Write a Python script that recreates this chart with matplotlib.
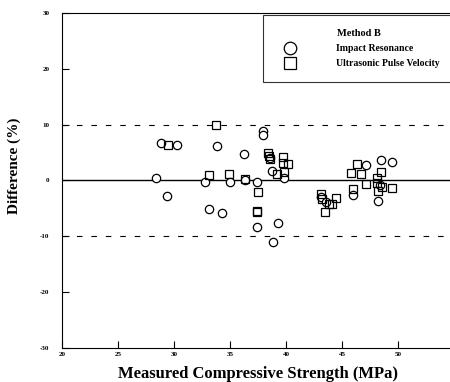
import matplotlib.pyplot as plt

# Impact Resonance (circles)
ir_strength = [28.4, 28.8, 30.3, 29.4, 33.8, 36.2, 32.8, 35.0, 36.3, 33.1, 34.3,
               37.9, 37.9, 38.6, 38.7, 39.8, 37.4, 37.4, 39.3, 38.8,
               43.1, 43.6, 46.0, 47.1, 48.5, 49.5, 48.2, 48.4]
ir_diff = [0.5, 6.7, 6.4, -2.8, 6.1, 4.7, -0.2, -0.3, 0.0, -5.1, -5.8,
           8.8, 8.2, 4.0, 1.7, 0.5, -0.2, -8.3, -7.6, -11.0,
           -3.0, -3.9, -2.6, 2.7, 3.6, 3.4, -3.7, -0.8]

# Ultrasonic Pulse Velocity (squares)
upv_strength = [29.5, 33.75, 33.1, 34.9, 36.3, 38.4, 38.5, 38.6, 39.7, 39.7, 40.2,
                39.2, 39.8, 37.5, 37.4, 37.4, 43.1, 43.2, 43.8, 43.5, 44.5, 44.1,
                46.3, 45.8, 46.7, 47.1, 46.0, 48.5, 48.15, 48.15, 48.6, 48.2, 49.5]
upv_diff = [6.4, 9.95, 0.9, 1.2, 0.2, 4.9, 4.3, 3.9, 4.2, 3.2, 2.9,
            1.1, 1.5, -2.1, -5.4, -5.7, -2.4, -3.4, -4.2, -5.7, -3.1, -4.2,
            2.9, 1.4, 1.1, -0.7, -1.5, 1.6, 0.5, -0.4, -1.2, -1.9, -1.4]

x_ticks = [20, 25, 30, 35, 40, 45, 50, 55]
y_ticks = [-30, -20, -10, 0, 10, 20, 30]

plt.rcParams['font.family'] = ['Liberation Serif', 'DejaVu Serif']

fig = plt.figure(figsize=(4.5, 3.82), dpi=100)
ax = fig.add_axes([0.138, 0.089, 0.871, 0.877])

ax.axhline(0, color='black', linewidth=1.0, zorder=1)
ax.axhline(10, color='black', linewidth=0.8, linestyle=(0, (5, 8)), zorder=1)
ax.axhline(-10, color='black', linewidth=0.8, linestyle=(0, (5, 8)), zorder=1)

ax.plot(ir_strength, ir_diff, linestyle='none', marker='o', markersize=6,
        markerfacecolor='white', markeredgecolor='black', markeredgewidth=0.9,
        label='Impact Resonance', zorder=3)
ax.plot(upv_strength, upv_diff, linestyle='none', marker='s', markersize=6,
        markerfacecolor='none', markeredgecolor='black', markeredgewidth=0.9,
        label='Ultrasonic Pulse Velocity', zorder=3)

ax.set_xlim(20, 55)
ax.set_ylim(-30, 30)
ax.set_xticks(x_ticks)
ax.set_yticks(y_ticks)
ax.set_xticklabels([str(t) for t in x_ticks], fontsize=5, fontweight='bold')
ax.set_yticklabels([str(t) for t in y_ticks], fontsize=5, fontweight='bold')
ax.tick_params(axis='x', direction='in', length=5, width=0.8, pad=3)
ax.tick_params(axis='y', direction='in', length=5, width=0.8, pad=9)

ax.set_xlabel('Measured Compressive Strength (MPa)', fontsize=12, fontweight='bold', labelpad=6)
ax.set_ylabel('Difference (%)', fontsize=11, fontweight='bold')
ax.yaxis.set_label_coords(-0.105, 0.545)

leg = ax.legend(title='Method B', loc='upper right', bbox_to_anchor=(1.0, 0.995),
                fontsize=7, title_fontproperties={'weight': 'bold', 'size': 7.5},
                frameon=True, fancybox=False, edgecolor='black', borderaxespad=0,
                handletextpad=3.5, labelspacing=0.6, borderpad=1.5, markerscale=1.5,
                handlelength=2.5)
leg.get_frame().set_linewidth(0.8)
for t in leg.get_texts():
    t.set_fontweight('bold')

plt.savefig('out.png', dpi=100)
